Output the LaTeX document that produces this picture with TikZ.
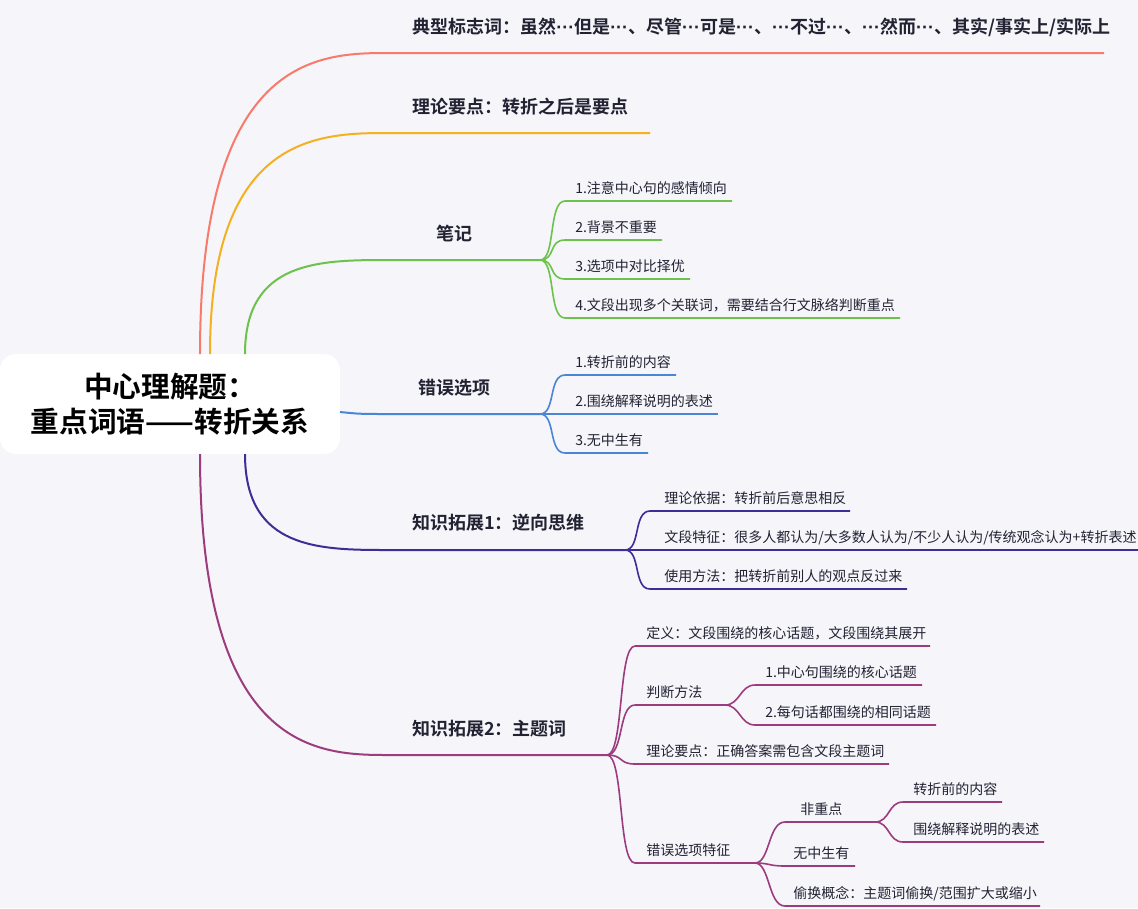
\documentclass[tikz,border=0pt]{standalone}
\usepackage{fontspec}
\setmainfont{Noto Sans CJK SC}[BoldFont={Noto Sans CJK SC Bold}]
\newfontfamily\latf{Liberation Sans}
\newcommand{\mydots}{{\latf\bfseries ···}}
\definecolor{bg}{HTML}{F5F5FA}
\definecolor{cred}{HTML}{F87A6A}
\definecolor{corange}{HTML}{F5B020}
\definecolor{cgreen}{HTML}{6CC24A}
\definecolor{cblue}{HTML}{4A86D8}
\definecolor{cindigo}{HTML}{3C2E96}
\definecolor{cpurple}{HTML}{9C3C7E}
\definecolor{tx}{HTML}{222233}
\begin{document}
\begin{tikzpicture}[x=0.75pt,y=-0.75pt,
  br/.style={line width=1.5pt},
  sb/.style={line width=1.2pt},
  mainlbl/.style={anchor=base west,font=\bfseries\fontsize{13.5}{16}\selectfont,text=tx,inner sep=0},
  sublbl/.style={anchor=base west,font=\fontsize{10.5}{13}\selectfont,text=tx,inner sep=0}]
\fill[bg] (0,0) rectangle (1138,908);
\useasboundingbox (0,0) rectangle (1138,908);
% central
\node[fill=white,rounded corners=12pt,minimum width=255pt,minimum height=75pt,align=center,
  font=\bfseries\fontsize{21.5}{26}\selectfont,text=black] (c) at (170,404) {中心理解题：\\重点词语——转折关系};
% branch 1
\draw[cred,br] (200,354) .. controls (200,53) and (320,53) .. (390,53) -- (1104,53);
\node[mainlbl] (t1) at (412,33) {典型标志词：虽然\mydots 但是\mydots、尽管\mydots 可是\mydots、\mydots 不过\mydots、\mydots 然而\mydots、其实/事实上/实际上};
% branch 2
\draw[corange,br] (210,354) .. controls (210,133) and (320,133) .. (390,133) -- (650,133);
\node[mainlbl] (t2) at (412,113) {理论要点：转折之后是要点};
% branch 3
\draw[cgreen,br] (245,354) .. controls (245,260) and (320,260) .. (390,260) -- (540,260);
\node[mainlbl] (t3) at (436,240) {笔记};
\foreach \y/\e/\t in {201/732/{1.注意中心句的感情倾向},240/662/{2.背景不重要},279/690/{3.选项中对比择优},318/900/{4.文段出现多个关联词，需要结合行文脉络判断重点}}{
  \draw[cgreen,sb] (540,260) .. controls (556,260) and (548,\y) .. (565,\y) -- (\e,\y);
  \node[sublbl] at (575,\y-8) {\t};}
% branch 4
\draw[cblue,br] (340,412) .. controls (360,414) .. (390,414) -- (540,414);
\node[mainlbl] (t4) at (418,394) {错误选项};
\foreach \y/\e/\t in {375/676/{1.转折前的内容},414/718/{2.围绕解释说明的表述},453/648/{3.无中生有}}{
  \draw[cblue,sb] (540,414) .. controls (556,414) and (548,\y) .. (565,\y) -- (\e,\y);
  \node[sublbl] at (575,\y-8) {\t};}
% branch 5
\draw[cindigo,br] (245,454) .. controls (245,550) and (320,550) .. (390,550) -- (625,550);
\node[mainlbl] (t5) at (412,529) {知识拓展1：逆向思维};
\foreach \y/\e/\t in {511/850/{理论依据：转折前后意思相反},550/1138/{文段特征：很多人都认为/大多数人认为/不少人认为/传统观念认为+转折表述},589/907/{使用方法：把转折前别人的观点反过来}}{
  \draw[cindigo,sb] (625,550) .. controls (641,550) and (633,\y) .. (650,\y) -- (\e,\y);
  \node[sublbl] at (664,\y-8) {\t};}
% branch 6
\draw[cpurple,br] (200,454) .. controls (200,755) and (320,755) .. (390,755) -- (607,755);
\node[mainlbl] (t6) at (412,735) {知识拓展2：主题词};
\foreach \y/\e/\t in {646/930/{定义：文段围绕的核心话题，文段围绕其展开},705/708/{判断方法},764/889/{理论要点：正确答案需包含文段主题词},863/736/{错误选项特征}}{
  \draw[cpurple,sb] (607,755) .. controls (624,755) and (618,\y) .. (635,\y) -- (\e,\y);
  \node[sublbl] at (646,\y-8) {\t};}
\draw[cpurple,sb] (708,705) -- (725,705);
\foreach \y/\e/\t in {685/922/{1.中心句围绕的核心话题},725/936/{2.每句话都围绕的相同话题}}{
  \draw[cpurple,sb] (725,705) .. controls (740,705) and (740,\y) .. (755,\y) -- (\e,\y);
  \node[sublbl] at (765,\y-8) {\t};}
\draw[cpurple,sb] (736,863) -- (755,863);
\foreach \y/\e/\xx/\t in {822/855/800/{非重点},866/855/793/{无中生有},906/1040/793/{偷换概念：主题词偷换/范围扩大或缩小}}{
  \draw[cpurple,sb] (755,863) .. controls (770,863) and (768,\y) .. (785,\y) -- (\e,\y);
  \node[sublbl] at (\xx,\y-8) {\t};}
\draw[cpurple,sb] (855,822) -- (875,822);
\foreach \y/\e/\t in {802/1002/{转折前的内容},842/1044/{围绕解释说明的表述}}{
  \draw[cpurple,sb] (875,822) .. controls (890,822) and (888,\y) .. (903,\y) -- (\e,\y);
  \node[sublbl] at (913,\y-8) {\t};}
\end{tikzpicture}
\end{document}
